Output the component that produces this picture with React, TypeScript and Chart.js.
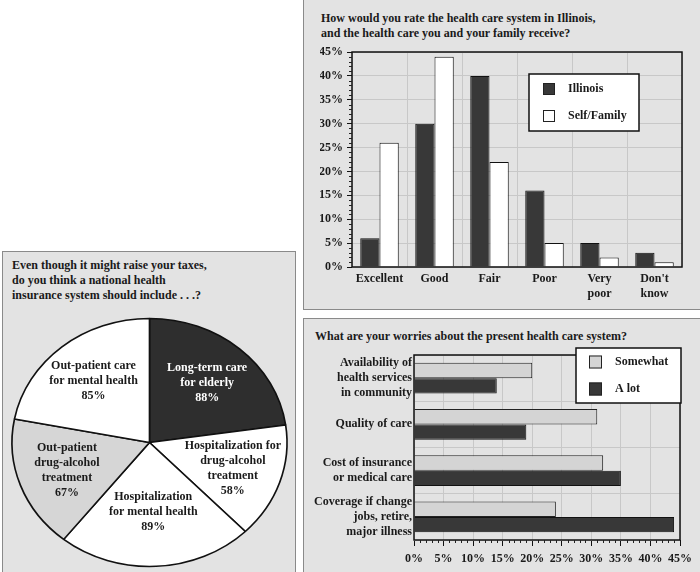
import React, { useEffect, useRef } from 'react';
import { Chart, registerables } from 'chart.js';

Chart.register(...registerables);

const FONT = '"Liberation Serif", "Times New Roman", serif';

// ---- Chart 1: rating of health care ----
const ratingCategories: (string | string[])[] = ['Excellent', 'Good', 'Fair', 'Poor', ['Very', 'poor'], ["Don't", 'know']];
const illinoisValues = [6, 30, 40, 16, 5, 3];
const selfFamilyValues = [26, 44, 22, 5, 2, 1];
const ratingSeriesNames = ['Illinois', 'Self/Family'];

// ---- Chart 2: worries ----
const worryCategories: (string | string[])[] = [
  ['Availability of', 'health services', 'in community'],
  'Quality of care',
  ['Cost of insurance', 'or medical care'],
  ['Coverage if change', 'jobs, retire,', 'major illness'],
];
const somewhatValues = [20, 31, 32, 24];
const aLotValues = [14, 19, 35, 44];
const worrySeriesNames = ['Somewhat', 'A lot'];

// ---- Chart 3: national insurance should include ----
const coverageLabels: (string | string[])[] = [
  ['Long-term care', 'for elderly'],
  ['Hospitalization for', 'drug-alcohol', 'treatment'],
  ['Hospitalization', 'for mental health'],
  ['Out-patient', 'drug-alcohol', 'treatment'],
  ['Out-patient care', 'for mental health'],
];
const coverageValues = [88, 58, 89, 67, 85];

const percentMin = 0;
const percentMax = 45;
const percentStep = 5;

const tickFont = { family: FONT, size: 12, weight: 'bold' as const, lineHeight: 1.25 };
const TEXT = '#1a1a1a';
const GRID = '#c8c8c8';
const DARK = '#383838';
const LIGHT = '#d4d4d4';

const framePlugin = {
  id: 'frame',
  afterDraw(chart: any) {
    const { ctx, chartArea: a } = chart;
    ctx.save();
    ctx.strokeStyle = '#111';
    ctx.lineWidth = 1.5;
    ctx.strokeRect(a.left, a.top, a.right - a.left, a.bottom - a.top);
    ctx.restore();
  },
};

const minorTicksPlugin = {
  id: 'minorTicks',
  afterDraw(chart: any, _args: any, o: any) {
    const scale = chart.scales[o.axis];
    const ctx = chart.ctx;
    ctx.save();
    ctx.strokeStyle = '#222';
    ctx.lineWidth = 1;
    for (let v = scale.min; v <= scale.max; v += 1) {
      if (v % percentStep === 0) continue;
      const p = Math.round(scale.getPixelForValue(v)) + 0.5;
      ctx.beginPath();
      if (o.axis === 'y') {
        ctx.moveTo(scale.right - o.length, p);
        ctx.lineTo(scale.right, p);
      } else {
        ctx.moveTo(p, scale.top);
        ctx.lineTo(p, scale.top + o.length);
      }
      ctx.stroke();
    }
    ctx.restore();
  },
};

const boxLegendPlugin = {
  id: 'boxLegend',
  afterDraw(chart: any, _args: any, o: any) {
    const ctx = chart.ctx;
    ctx.save();
    ctx.fillStyle = '#fff';
    ctx.fillRect(o.x, o.y, o.w, o.h);
    ctx.lineWidth = 1.5;
    ctx.strokeStyle = '#111';
    ctx.strokeRect(o.x, o.y, o.w, o.h);
    chart.data.datasets.forEach((ds: any, i: number) => {
      const cy = o.rowY[i];
      ctx.fillStyle = ds.backgroundColor;
      ctx.fillRect(o.swatchX, cy - o.swatch / 2, o.swatch, o.swatch);
      ctx.lineWidth = 1;
      ctx.strokeStyle = '#222';
      ctx.strokeRect(o.swatchX + 0.5, cy - o.swatch / 2 + 0.5, o.swatch - 1, o.swatch - 1);
      ctx.fillStyle = TEXT;
      ctx.font = `bold 12px ${FONT}`;
      ctx.textAlign = 'left';
      ctx.textBaseline = 'middle';
      ctx.fillText(ds.label, o.textX, cy);
    });
    ctx.restore();
  },
};

const ellipsePlugin = {
  id: 'ellipse',
  beforeDatasetsDraw(chart: any, _args: any, o: any) {
    const { ctx, chartArea: a } = chart;
    const cx = (a.left + a.right) / 2;
    const cy = (a.top + a.bottom) / 2;
    ctx.save();
    ctx.translate(cx, cy);
    ctx.scale(o.sx, 1);
    ctx.translate(-cx, -cy);
  },
  afterDatasetsDraw(chart: any) {
    chart.ctx.restore();
  },
};

const sliceLabelsPlugin = {
  id: 'sliceLabels',
  afterDraw(chart: any, _args: any, o: any) {
    const meta = chart.getDatasetMeta(0);
    const ds = chart.data.datasets[0];
    const ctx = chart.ctx;
    ctx.save();
    ctx.font = `bold 12px ${FONT}`;
    ctx.textAlign = 'center';
    ctx.textBaseline = 'middle';
    meta.data.forEach((arc: any, i: number) => {
      const { x, y, startAngle, endAngle, outerRadius } = arc.getProps(
        ['x', 'y', 'startAngle', 'endAngle', 'outerRadius'],
        true
      );
      const mid = (startAngle + endAngle) / 2;
      const f = i === 2 ? 0.56 : 0.64;
      const px = x + Math.cos(mid) * outerRadius * f * o.sx;
      const py = y + Math.sin(mid) * outerRadius * f;
      const label = chart.data.labels[i];
      const lines = [...(Array.isArray(label) ? label : [label]), ds.data[i] + '%'];
      const lh = 15;
      ctx.fillStyle = i === 0 ? '#ffffff' : TEXT;
      lines.forEach((ln: string, k: number) => {
        ctx.fillText(ln, px, py + (k - (lines.length - 1) / 2) * lh);
      });
    });
    ctx.restore();
  },
};

function ratingConfig(): any {
  return {
    type: 'bar',
    data: {
      labels: ratingCategories,
      datasets: [
        {
          label: ratingSeriesNames[0],
          data: illinoisValues,
          backgroundColor: DARK,
          borderColor: '#111',
          borderWidth: 1,
          barPercentage: 1,
          categoryPercentage: 0.7,
        },
        {
          label: ratingSeriesNames[1],
          data: selfFamilyValues,
          backgroundColor: '#ffffff',
          borderColor: '#111',
          borderWidth: 1,
          barPercentage: 1,
          categoryPercentage: 0.7,
        },
      ],
    },
    plugins: [framePlugin, minorTicksPlugin, boxLegendPlugin],
    options: {
      animation: false,
      responsive: false,
      layout: { padding: { left: 17, right: 18, top: 52, bottom: 0 } },
      plugins: {
        legend: { display: false },
        tooltip: { enabled: false },
        minorTicks: { axis: 'y', length: 3 },
        boxLegend: { x: 226, y: 74, w: 110, h: 57, swatchX: 240, swatch: 12, rowY: [89, 116], textX: 265 },
      },
      scales: {
        x: {
          grid: { color: GRID, offset: true, drawTicks: false },
          border: { display: false },
          ticks: { font: tickFont, color: TEXT, padding: 4, maxRotation: 0, autoSkip: false },
          afterFit: (s: any) => {
            s.height = 42;
          },
        },
        y: {
          min: percentMin,
          max: percentMax,
          grid: { color: GRID, tickColor: '#111', tickLength: 5 },
          border: { display: false },
          ticks: {
            stepSize: percentStep,
            font: tickFont,
            color: TEXT,
            padding: 4,
            callback: (v: any) => v + '%',
          },
          afterFit: (s: any) => {
            s.width = 32;
          },
        },
      },
    },
  };
}

function worryConfig(): any {
  return {
    type: 'bar',
    data: {
      labels: worryCategories,
      datasets: [
        {
          label: worrySeriesNames[0],
          data: somewhatValues,
          backgroundColor: LIGHT,
          borderColor: '#222',
          borderWidth: 1,
          barPercentage: 1,
          categoryPercentage: 0.66,
        },
        {
          label: worrySeriesNames[1],
          data: aLotValues,
          backgroundColor: DARK,
          borderColor: '#111',
          borderWidth: 1,
          barPercentage: 1,
          categoryPercentage: 0.66,
        },
      ],
    },
    plugins: [framePlugin, minorTicksPlugin, boxLegendPlugin],
    options: {
      indexAxis: 'y',
      animation: false,
      responsive: false,
      layout: { padding: { left: 0, right: 20, top: 37, bottom: 0 } },
      plugins: {
        legend: { display: false },
        tooltip: { enabled: false },
        minorTicks: { axis: 'x', length: 3 },
        boxLegend: { x: 273, y: 30, w: 105, h: 55, swatchX: 286, swatch: 13, rowY: [44, 71], textX: 312 },
      },
      scales: {
        x: {
          min: percentMin,
          max: percentMax,
          grid: { color: GRID, tickColor: '#111', tickLength: 6 },
          border: { display: false },
          ticks: {
            stepSize: percentStep,
            font: tickFont,
            color: TEXT,
            padding: 5,
            maxRotation: 0,
            callback: (v: any) => v + '%',
          },
          afterFit: (s: any) => {
            s.height = 32;
          },
        },
        y: {
          grid: { color: GRID, offset: true, drawTicks: false },
          border: { display: false },
          ticks: { font: tickFont, color: TEXT, padding: 2, autoSkip: false },
          afterFit: (s: any) => {
            s.width = 111;
          },
        },
      },
    },
  };
}

function coverageConfig(): any {
  return {
    type: 'pie',
    data: {
      labels: coverageLabels,
      datasets: [
        {
          data: coverageValues,
          backgroundColor: ['#2e2e2e', '#ffffff', '#ffffff', '#d6d6d6', '#ffffff'],
          borderColor: '#111',
          borderWidth: 1.5,
          clip: false,
        },
      ],
    },
    plugins: [ellipsePlugin, sliceLabelsPlugin],
    options: {
      animation: false,
      responsive: false,
      radius: 124,
      layout: { padding: { left: 2, right: 0, top: 62, bottom: 1 } },
      plugins: {
        legend: { display: false },
        tooltip: { enabled: false },
        ellipse: { sx: 1.109 },
        sliceLabels: { sx: 1.109 },
      },
    },
  };
}

function ChartCanvas(props: { config: () => any; left: number; top: number; width: number; height: number }) {
  const ref = useRef<HTMLCanvasElement>(null);
  useEffect(() => {
    const chart = new Chart(ref.current as HTMLCanvasElement, props.config());
    return () => chart.destroy();
  }, []);
  return (
    <canvas
      ref={ref}
      width={props.width}
      height={props.height}
      style={{ position: 'absolute', left: props.left, top: props.top, width: props.width, height: props.height }}
    />
  );
}

const panelStyle = (left: number, top: number, width: number, height: number): React.CSSProperties => ({
  position: 'absolute',
  left,
  top,
  width,
  height,
  boxSizing: 'border-box',
  border: '1px solid #8a8a8a',
  background: '#e3e3e3',
});

const titleStyle = (left: number, top: number): React.CSSProperties => ({
  position: 'absolute',
  left,
  top,
  font: `bold 12px/15px ${FONT}`,
  color: TEXT,
  whiteSpace: 'nowrap',
});

export default function App() {
  return (
    <div
      style={{
        position: 'absolute',
        left: 0,
        top: 0,
        width: 700,
        height: 572,
        overflow: 'hidden',
        background: '#ffffff',
      }}
    >
      <div style={panelStyle(303, -1, 400, 311)} />
      <div style={panelStyle(303, 318, 400, 262)} />
      <div style={panelStyle(2, 251, 294, 330)} />

      <div style={titleStyle(321, 11)}>
        How would you rate the health care system in Illinois,
        <br />
        and the health care you and your family receive?
      </div>
      <div style={titleStyle(315, 329)}>What are your worries about the present health care system?</div>
      <div style={titleStyle(12, 258)}>
        Even though it might raise your taxes,
        <br />
        do you think a national health
        <br />
        insurance system should include . . .?
      </div>

      <ChartCanvas config={ratingConfig} left={303} top={0} width={397} height={309} />
      <ChartCanvas config={worryConfig} left={303} top={318} width={397} height={254} />
      <ChartCanvas config={coverageConfig} left={2} top={251} width={293} height={322} />
    </div>
  );
}
